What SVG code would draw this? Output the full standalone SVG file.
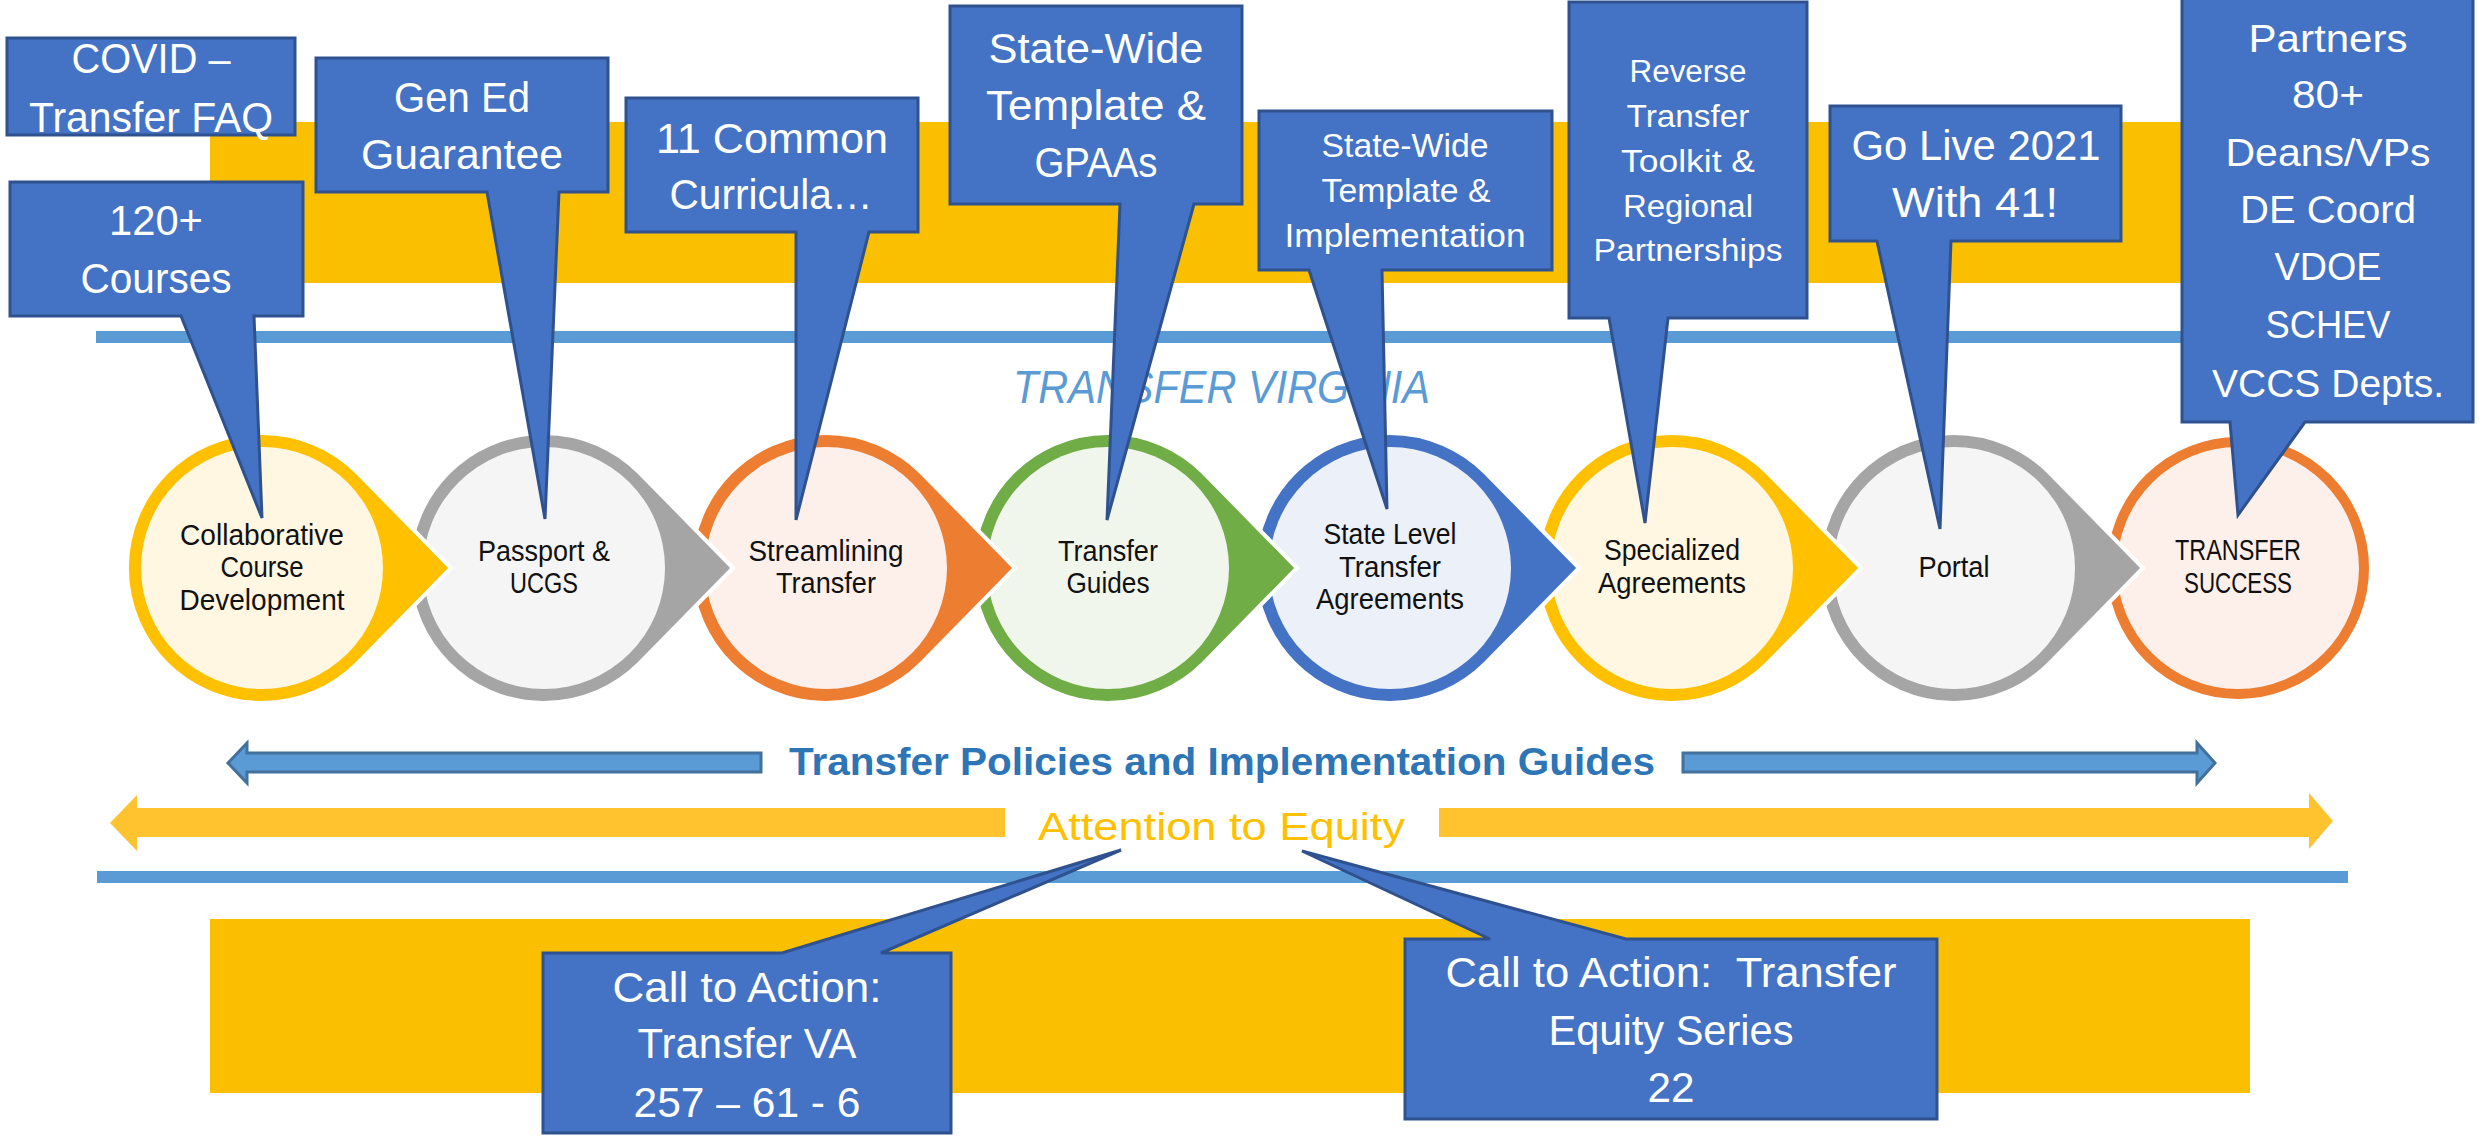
<svg xmlns="http://www.w3.org/2000/svg" width="2483" height="1139" viewBox="0 0 2483 1139">
<style>
.band{fill:#FAC000}
.bline{fill:#5B9BD5}
.co{fill:#4472C4;stroke:#2F528F;stroke-width:3;stroke-linejoin:miter}
.ct{font-family:"Liberation Sans",Arial,sans-serif;fill:#FFFFFF;text-anchor:middle;font-size:42px}
.nt{font-family:"Liberation Sans",Arial,sans-serif;fill:#111111;text-anchor:middle;font-size:29px}
.drop{stroke:#FFFFFF;stroke-width:4}
</style>
<defs>
<path id="tear" d="M94.9,-95.9 L189,0 L94.9,95.9 A135,135 0 1 1 94.9,-95.9 Z"/>
</defs>

<g id="background">
<rect class="band" x="210" y="122" width="2040" height="161"/>
<rect class="band" x="210" y="919" width="2040" height="174"/>
<rect class="bline" x="96" y="331" width="2252" height="12"/>
<rect class="bline" x="97" y="871" width="2251" height="12"/>
<text x="1221.5" y="403" font-family="Liberation Sans,Arial,sans-serif" font-style="italic" font-size="46" fill="#5B9BD5" text-anchor="middle" textLength="417" lengthAdjust="spacingAndGlyphs">TRANSFER VIRGINIA</text>
</g>

<g id="n8" transform="translate(2238,568)">
<circle r="133" fill="#ED7D31" stroke="#FFFFFF" stroke-width="4"/>
<circle r="121" fill="#FDF0EA"/>
<text class="nt" x="0" y="-8" textLength="126" lengthAdjust="spacingAndGlyphs">TRANSFER</text>
<text class="nt" x="0" y="25" textLength="108" lengthAdjust="spacingAndGlyphs">SUCCESS</text>
</g>
<g id="n7" transform="translate(1954,568)">
<use href="#tear" class="drop" fill="#A5A5A5"/>
<circle r="121" fill="#F5F5F5"/>
<text class="nt" x="0" y="9" textLength="71" lengthAdjust="spacingAndGlyphs">Portal</text>
</g>
<g id="n6" transform="translate(1672,568)">
<use href="#tear" class="drop" fill="#FFC000"/>
<circle r="121" fill="#FFF7E1"/>
<text class="nt" x="0" y="-8" textLength="136" lengthAdjust="spacingAndGlyphs">Specialized</text>
<text class="nt" x="0" y="25" textLength="148" lengthAdjust="spacingAndGlyphs">Agreements</text>
</g>
<g id="n5" transform="translate(1390,568)">
<use href="#tear" class="drop" fill="#4472C4"/>
<circle r="121" fill="#ECF0F9"/>
<text class="nt" x="0" y="-24" textLength="133" lengthAdjust="spacingAndGlyphs">State Level</text>
<text class="nt" x="0" y="9" textLength="102" lengthAdjust="spacingAndGlyphs">Transfer</text>
<text class="nt" x="0" y="41" textLength="148" lengthAdjust="spacingAndGlyphs">Agreements</text>
</g>
<g id="n4" transform="translate(1108,568)">
<use href="#tear" class="drop" fill="#70AD47"/>
<circle r="121" fill="#F0F6EC"/>
<text class="nt" x="0" y="-7" textLength="100" lengthAdjust="spacingAndGlyphs">Transfer</text>
<text class="nt" x="0" y="25" textLength="83" lengthAdjust="spacingAndGlyphs">Guides</text>
</g>
<g id="n3" transform="translate(826,568)">
<use href="#tear" class="drop" fill="#ED7D31"/>
<circle r="121" fill="#FDF0EA"/>
<text class="nt" x="0" y="-7" textLength="155" lengthAdjust="spacingAndGlyphs">Streamlining</text>
<text class="nt" x="0" y="25" textLength="100" lengthAdjust="spacingAndGlyphs">Transfer</text>
</g>
<g id="n2" transform="translate(544,568)">
<use href="#tear" class="drop" fill="#A5A5A5"/>
<circle r="121" fill="#F5F5F5"/>
<text class="nt" x="0" y="-7" textLength="132" lengthAdjust="spacingAndGlyphs">Passport &amp;</text>
<text class="nt" x="0" y="25" textLength="68" lengthAdjust="spacingAndGlyphs">UCGS</text>
</g>
<g id="n1" transform="translate(262,568)">
<use href="#tear" class="drop" fill="#FFC000"/>
<circle r="121" fill="#FFF7E1"/>
<text class="nt" x="0" y="-23" textLength="164" lengthAdjust="spacingAndGlyphs">Collaborative</text>
<text class="nt" x="0" y="9" textLength="83" lengthAdjust="spacingAndGlyphs">Course</text>
<text class="nt" x="0" y="42" textLength="165" lengthAdjust="spacingAndGlyphs">Development</text>
</g>

<g id="c-covid">
<rect class="co" x="7" y="38" width="288" height="97"/>
<text class="ct" x="151" y="73" textLength="159" lengthAdjust="spacingAndGlyphs">COVID –</text>
<text class="ct" x="151" y="132" textLength="244" lengthAdjust="spacingAndGlyphs">Transfer FAQ</text>
</g>
<g id="c-courses">
<path class="co" d="M10,182 H303 V316 H254 L262,518 L181,316 H10 Z"/>
<text class="ct" x="156" y="235" textLength="94" lengthAdjust="spacingAndGlyphs">120+</text>
<text class="ct" x="156" y="293" textLength="151" lengthAdjust="spacingAndGlyphs">Courses</text>
</g>
<g id="c-gened">
<path class="co" d="M316,58 H608 V192 H559 L545,519 L487,192 H316 Z"/>
<text class="ct" x="462" y="112" textLength="136" lengthAdjust="spacingAndGlyphs">Gen Ed</text>
<text class="ct" x="462" y="169" textLength="202" lengthAdjust="spacingAndGlyphs">Guarantee</text>
</g>
<g id="c-common">
<path class="co" d="M626,98 H918 V232 H869 L796,520 L796,232 H626 Z"/>
<text class="ct" x="772" y="153" textLength="232" lengthAdjust="spacingAndGlyphs">11 Common</text>
<text class="ct" x="771" y="209" textLength="203" lengthAdjust="spacingAndGlyphs">Curricula…</text>
</g>
<g id="c-gpaas">
<path class="co" d="M950,6 H1242 V204 H1194 L1107,520 L1120,204 H950 Z"/>
<text class="ct" x="1096" y="63" textLength="215" lengthAdjust="spacingAndGlyphs">State-Wide</text>
<text class="ct" x="1096" y="120" textLength="220" lengthAdjust="spacingAndGlyphs">Template &amp;</text>
<text class="ct" x="1096" y="177" textLength="123" lengthAdjust="spacingAndGlyphs">GPAAs</text>
</g>
<g id="c-impl">
<path class="co" d="M1259,111 H1552 V270 H1382 L1387,509 L1309,270 H1259 Z"/>
<text class="ct" x="1405" y="157" style="font-size:33px" textLength="167" lengthAdjust="spacingAndGlyphs">State-Wide</text>
<text class="ct" x="1406" y="202" style="font-size:33px" textLength="169" lengthAdjust="spacingAndGlyphs">Template &amp;</text>
<text class="ct" x="1405" y="247" style="font-size:33px" textLength="241" lengthAdjust="spacingAndGlyphs">Implementation</text>
</g>
<g id="c-reverse">
<path class="co" d="M1569,2 H1807 V318 H1668 L1645,523 L1609,318 H1569 Z"/>
<text class="ct" x="1688" y="82" style="font-size:31px" textLength="117" lengthAdjust="spacingAndGlyphs">Reverse</text>
<text class="ct" x="1688" y="127" style="font-size:31px" textLength="123" lengthAdjust="spacingAndGlyphs">Transfer</text>
<text class="ct" x="1688" y="172" style="font-size:31px" textLength="134" lengthAdjust="spacingAndGlyphs">Toolkit &amp;</text>
<text class="ct" x="1688" y="217" style="font-size:31px" textLength="130" lengthAdjust="spacingAndGlyphs">Regional</text>
<text class="ct" x="1688" y="261" style="font-size:31px" textLength="189" lengthAdjust="spacingAndGlyphs">Partnerships</text>
</g>
<g id="c-golive">
<path class="co" d="M1830,106 H2121 V241 H1951 L1940,529 L1877,241 H1830 Z"/>
<text class="ct" x="1976" y="160" textLength="249" lengthAdjust="spacingAndGlyphs">Go Live 2021</text>
<text class="ct" x="1975" y="217" textLength="166" lengthAdjust="spacingAndGlyphs">With 41!</text>
</g>
<g id="c-partners">
<path class="co" d="M2182,-5 H2473 V422 H2305 L2238,515 L2230,422 H2182 Z"/>
<text class="ct" x="2328" y="52" style="font-size:38px" textLength="159" lengthAdjust="spacingAndGlyphs">Partners</text>
<text class="ct" x="2328" y="108" style="font-size:38px" textLength="72" lengthAdjust="spacingAndGlyphs">80+</text>
<text class="ct" x="2328" y="166" style="font-size:38px" textLength="205" lengthAdjust="spacingAndGlyphs">Deans/VPs</text>
<text class="ct" x="2328" y="223" style="font-size:38px" textLength="176" lengthAdjust="spacingAndGlyphs">DE Coord</text>
<text class="ct" x="2328" y="280" style="font-size:38px" textLength="107" lengthAdjust="spacingAndGlyphs">VDOE</text>
<text class="ct" x="2328" y="338" style="font-size:38px" textLength="125" lengthAdjust="spacingAndGlyphs">SCHEV</text>
<text class="ct" x="2328" y="397" style="font-size:38px" textLength="232" lengthAdjust="spacingAndGlyphs">VCCS Depts.</text>
</g>

<g id="connectors">
<path d="M228,763 L247,743 V753 H761 V772 H247 V783 Z" fill="#5B9BD5" stroke="#41719C" stroke-width="3"/>
<path d="M2215,763 L2197,743 V753 H1683 V772 H2197 V783 Z" fill="#5B9BD5" stroke="#41719C" stroke-width="3"/>
<path d="M110,823 L137,795 V808 H1005 V837 H137 V851 Z" fill="#FFC32F"/>
<path d="M2333,821 L2309,793 V808 H1439 V837 H2309 V849 Z" fill="#FFC32F"/>
</g>
<g id="policies">
<text x="1222" y="775" font-family="Liberation Sans,Arial,sans-serif" font-weight="bold" font-size="38" fill="#2E75B6" text-anchor="middle" textLength="866" lengthAdjust="spacingAndGlyphs">Transfer Policies and Implementation Guides</text>
</g>
<g id="equity">
<text x="1221.5" y="840" font-family="Liberation Sans,Arial,sans-serif" font-size="38" fill="#FFC000" text-anchor="middle" textLength="367" lengthAdjust="spacingAndGlyphs">Attention to Equity</text>
</g>

<g id="c-cta1">
<path class="co" d="M543,953 H782 L1121,850 L881,953 H951 V1133 H543 Z"/>
<text class="ct" x="747" y="1002" textLength="269" lengthAdjust="spacingAndGlyphs">Call to Action:</text>
<text class="ct" x="747" y="1058" textLength="219" lengthAdjust="spacingAndGlyphs">Transfer VA</text>
<text class="ct" x="747" y="1117" textLength="227" lengthAdjust="spacingAndGlyphs">257 – 61 - 6</text>
</g>
<g id="c-cta2">
<path class="co" d="M1405,939 H1490 L1302,851 L1626,939 H1937 V1119 H1405 Z"/>
<text class="ct" x="1671" y="987" textLength="451" lengthAdjust="spacingAndGlyphs" xml:space="preserve">Call to Action:  Transfer</text>
<text class="ct" x="1671" y="1045" textLength="245" lengthAdjust="spacingAndGlyphs">Equity Series</text>
<text class="ct" x="1671" y="1102" textLength="47" lengthAdjust="spacingAndGlyphs">22</text>
</g>
</svg>
